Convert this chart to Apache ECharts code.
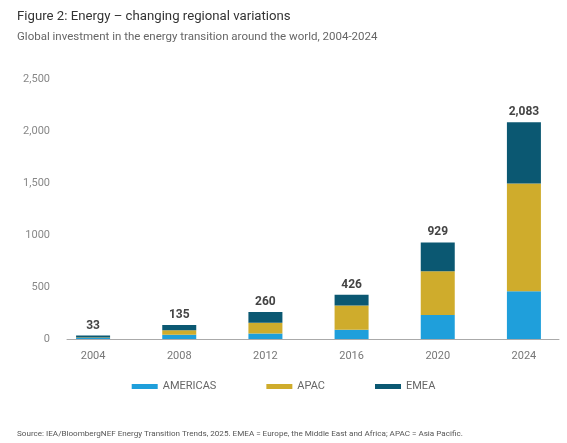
<!DOCTYPE html>
<html>
<head>
<meta charset="utf-8">
<script src="https://cdn.jsdelivr.net/npm/echarts@6/dist/echarts.min.js"></script>
<style>
html,body{margin:0;padding:0;background:#fff;}
#c{width:567px;height:443px;}
</style>
</head>
<body>
<div id="c"></div>
<script>
const categories = ['2004', '2008', '2012', '2016', '2020', '2024'];
const americas = [10, 41, 54, 90, 231, 458];
const apac = [5, 42, 103, 231, 420, 1038];
const emea = [18, 52, 103, 105, 278, 587];
const totals = [33, 135, 260, 426, 929, 2083];
const yTickLabels = ['0', '500', '1000', '1,500', '2,000', '2,500'];

const chart = echarts.init(document.getElementById('c'));
const font = 'Roboto';
const gridTop = 79;
const gridBottom = 104;

chart.setOption({
  animation: false,
  backgroundColor: '#fff',
  textStyle: { fontFamily: font },
  title: [
    { text: 'Figure 2: Energy \u2013 changing regional variations', left: 12, top: 5,
      textStyle: { fontSize: 13.2, fontWeight: 'normal', color: '#333', fontFamily: font } },
    { text: 'Global investment in the energy transition around the world, 2004-2024', left: 12, top: 26,
      textStyle: { fontSize: 11.5, fontWeight: 'normal', color: '#666', fontFamily: font } },
    { text: 'Source: IEA/BloombergNEF Energy Transition Trends, 2025. EMEA = Europe, the Middle East and Africa; APAC = Asia Pacific.',
      left: 12, top: 425,
      textStyle: { fontSize: 8.1, fontWeight: 'normal', color: '#555', fontFamily: font } }
  ],
  legend: {
    top: 376, left: 'center',
    itemWidth: 26, itemHeight: 5, itemGap: 50,
    icon: 'rect',
    textStyle: { fontSize: 11, color: '#666', fontFamily: font },
    data: ['AMERICAS', 'APAC', 'EMEA']
  },
  grid: [
    { left: 50, right: -13, top: gridTop, bottom: gridBottom },
    { left: 67, right: 8, top: gridTop, bottom: gridBottom }
  ],
  xAxis: [
    { type: 'category', gridIndex: 0, data: categories,
      axisLine: { show: false }, axisTick: { show: false },
      axisLabel: { color: '#777', fontSize: 11, margin: 12, fontFamily: font } },
    { type: 'value', gridIndex: 1, min: 0, max: 1,
      axisLine: { show: true, lineStyle: { color: '#aaa', width: 1 } },
      axisTick: { show: false }, axisLabel: { show: false }, splitLine: { show: false } }
  ],
  yAxis: [
    { type: 'value', gridIndex: 0, min: 0, max: 2500, interval: 500,
      axisLine: { show: false }, axisTick: { show: false }, splitLine: { show: false },
      axisLabel: { color: '#888', fontSize: 11, margin: 0, fontFamily: font,
        formatter: function (v) { return yTickLabels[Math.round(v / 500)]; } } },
    { type: 'value', gridIndex: 1, min: 0, max: 1, show: false }
  ],
  series: [
    { name: 'AMERICAS', type: 'bar', stack: 't', data: americas, barWidth: 34,
      itemStyle: { color: '#1f9fdb' } },
    { name: 'APAC', type: 'bar', stack: 't', data: apac, barWidth: 34,
      itemStyle: { color: '#cfac2c' } },
    { name: 'EMEA', type: 'bar', stack: 't', data: emea, barWidth: 34,
      itemStyle: { color: '#0b5872' },
      label: { show: true, position: 'top', distance: 4, color: '#444', fontSize: 12, fontWeight: 'bold', fontFamily: font,
        formatter: function (p) { return totals[p.dataIndex].toLocaleString('en-US'); } } }
  ]
});
</script>
</body>
</html>
